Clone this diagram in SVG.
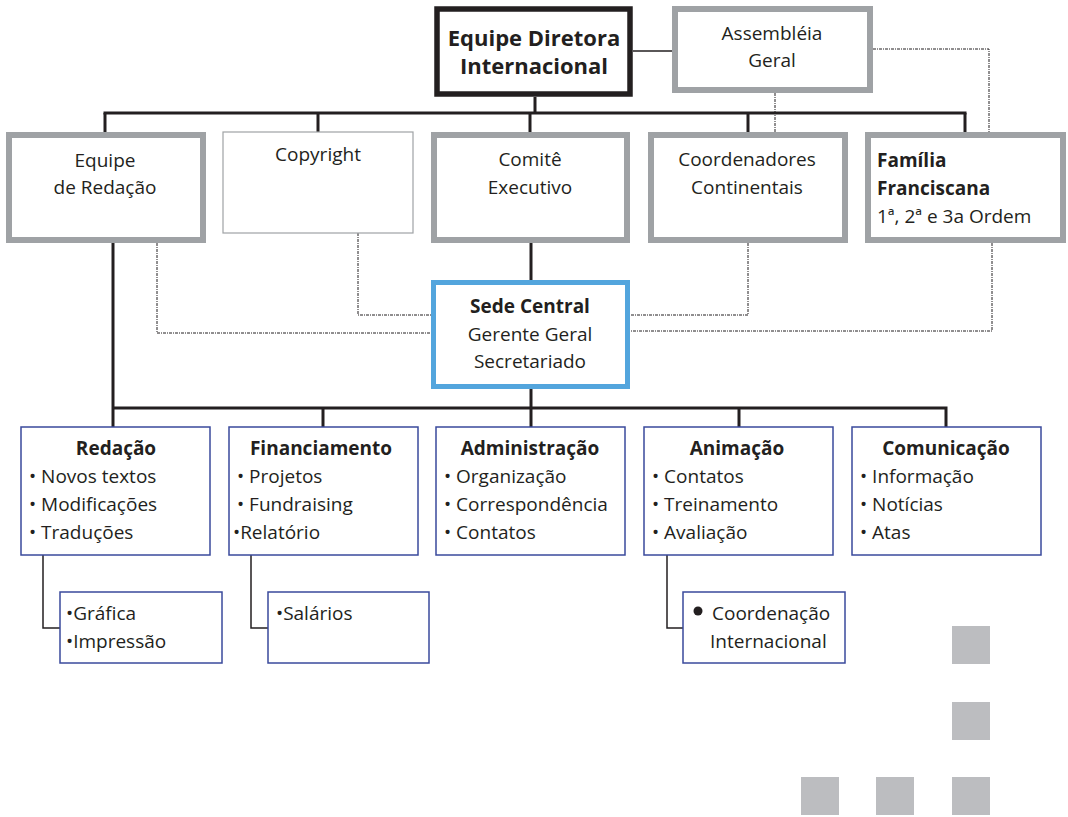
<svg xmlns="http://www.w3.org/2000/svg" width="1068" height="817" viewBox="0 0 1068 817">
<style>
text{font-family:"Open Sans","Noto Sans",sans-serif;font-size:19px;fill:#231f20}
.c{text-anchor:middle}
.b{font-weight:bold}
.top{fill:#fff;stroke:#231f20;stroke-width:5.5}
.gray{fill:#fff;stroke:#9fa2a5;stroke-width:6}
.thin{fill:#fff;stroke:#9fa2a5;stroke-width:1.2}
.sede{fill:#fff;stroke:#53a5dd;stroke-width:5}
.dep{fill:#fff;stroke:#3a4a9c;stroke-width:1.5}
.sq{fill:#bcbdc0}
.ln{fill:none;stroke:#231f20;stroke-width:3}
.ln2{fill:none;stroke:#231f20;stroke-width:1.5}
.dot{fill:none;stroke:#231f20;stroke-width:1;stroke-dasharray:3 1 1 1}
</style>
<g id="connectors">
<line class="ln2" x1="633" y1="51" x2="672" y2="51"/>
<polyline class="dot" points="873,49 989,49 989,133"/>
<line class="dot" x1="775" y1="93" x2="775" y2="133"/>
<line class="ln" x1="535" y1="97" x2="535" y2="113"/>
<line class="ln" x1="103.5" y1="113" x2="966.5" y2="113"/>
<line class="ln" x1="105" y1="113" x2="105" y2="133"/>
<line class="ln" x1="318" y1="113" x2="318" y2="132"/>
<line class="ln" x1="530" y1="113" x2="530" y2="133"/>
<line class="ln" x1="748" y1="113" x2="748" y2="133"/>
<line class="ln" x1="965" y1="113" x2="965" y2="133"/>
<line class="ln" x1="531" y1="243" x2="531" y2="280"/>
<polyline class="dot" points="358,233 358,315 431,315"/>
<polyline class="dot" points="748,243 748,315 630,315"/>
<polyline class="dot" points="157,243 157,333 431,333"/>
<polyline class="dot" points="992,243 992,331 630,331"/>
<line class="ln" x1="113" y1="243" x2="113" y2="427"/>
<line class="ln" x1="531" y1="389" x2="531" y2="408"/>
<polyline class="ln" points="113,408 946,408 946,427"/>
<line class="ln" x1="323" y1="408" x2="323" y2="427"/>
<line class="ln" x1="531" y1="408" x2="531" y2="427"/>
<line class="ln" x1="739" y1="408" x2="739" y2="427"/>
<polyline class="ln2" points="43,555 43,628 60,628"/>
<polyline class="ln2" points="251,555 251,628 268,628"/>
<polyline class="ln2" points="667,555 667,628 683,628"/>
</g>
<g id="equipe-diretora">
<rect class="top" x="437" y="9" width="193" height="85"/>
<text class="c b" x="534" y="46" style="font-size:22px">Equipe Diretora</text>
<text class="c b" x="534" y="74" style="font-size:22px">Internacional</text>
</g>
<g id="assembleia">
<rect class="gray" x="675" y="9" width="195" height="81"/>
<text class="c" x="772" y="40">Assembléia</text>
<text class="c" x="772" y="67">Geral</text>
</g>
<g id="equipe-redacao">
<rect class="gray" x="9" y="135" width="194" height="105"/>
<text class="c" x="105" y="167">Equipe</text>
<text class="c" x="105" y="194">de Redação</text>
</g>
<g id="copyright">
<rect class="thin" x="223" y="132" width="190" height="101"/>
<text class="c" x="318" y="161">Copyright</text>
</g>
<g id="comite">
<rect class="gray" x="434" y="135" width="193" height="105"/>
<text class="c" x="530" y="166">Comitê</text>
<text class="c" x="530" y="194">Executivo</text>
</g>
<g id="coordenadores">
<rect class="gray" x="651" y="135" width="194" height="105"/>
<text class="c" x="747" y="166">Coordenadores</text>
<text class="c" x="747" y="194">Continentais</text>
</g>
<g id="familia">
<rect class="gray" x="868" y="135" width="195" height="105"/>
<text class="b" x="877" y="167">Família</text>
<text class="b" x="877" y="195">Franciscana</text>
<text x="877" y="223">1ª, 2ª e 3a Ordem</text>
</g>
<g id="sede-central">
<rect class="sede" x="433.5" y="282.5" width="194" height="104"/>
<text class="c b" x="530" y="313">Sede Central</text>
<text class="c" x="530" y="341">Gerente Geral</text>
<text class="c" x="530" y="368">Secretariado</text>
</g>
<g id="redacao">
<rect class="dep" x="21" y="427" width="189" height="128"/>
<text class="c b" x="116" y="455">Redação</text>
<text x="29" y="483">• Novos textos</text>
<text x="29" y="511">• Modificações</text>
<text x="29" y="539">• Traduções</text>
</g>
<g id="financiamento">
<rect class="dep" x="229" y="427" width="189" height="128"/>
<text class="c b" x="321" y="455">Financiamento</text>
<text x="237" y="483">• Projetos</text>
<text x="237" y="511">• Fundraising</text>
<text x="233" y="539">•Relatório</text>
</g>
<g id="administracao">
<rect class="dep" x="436" y="427" width="189" height="128"/>
<text class="c b" x="530" y="455">Administração</text>
<text x="444" y="483">• Organização</text>
<text x="444" y="511">• Correspondência</text>
<text x="444" y="539">• Contatos</text>
</g>
<g id="animacao">
<rect class="dep" x="644" y="427" width="189" height="128"/>
<text class="c b" x="737" y="455">Animação</text>
<text x="652" y="483">• Contatos</text>
<text x="652" y="511">• Treinamento</text>
<text x="652" y="539">• Avaliação</text>
</g>
<g id="comunicacao">
<rect class="dep" x="852" y="427" width="189" height="128"/>
<text class="c b" x="946" y="455">Comunicação</text>
<text x="860" y="483">• Informação</text>
<text x="860" y="511">• Notícias</text>
<text x="860" y="539">• Atas</text>
</g>
<g id="grafica">
<rect class="dep" x="60" y="592" width="162" height="71"/>
<text x="66" y="620">•Gráfica</text>
<text x="66" y="648">•Impressão</text>
</g>
<g id="salarios">
<rect class="dep" x="268" y="592" width="161" height="71"/>
<text x="276" y="620">•Salários</text>
</g>
<g id="coordenacao">
<rect class="dep" x="683" y="592" width="162" height="71"/>
<circle cx="698" cy="611" r="4.5" fill="#231f20"/>
<text x="712" y="620">Coordenação</text>
<text x="710" y="648">Internacional</text>
</g>
<g id="squares">
<rect class="sq" x="952" y="626" width="38" height="38"/>
<rect class="sq" x="952" y="702" width="38" height="38"/>
<rect class="sq" x="801" y="777" width="38" height="38"/>
<rect class="sq" x="876" y="777" width="38" height="38"/>
<rect class="sq" x="952" y="777" width="38" height="38"/>
</g>
</svg>
